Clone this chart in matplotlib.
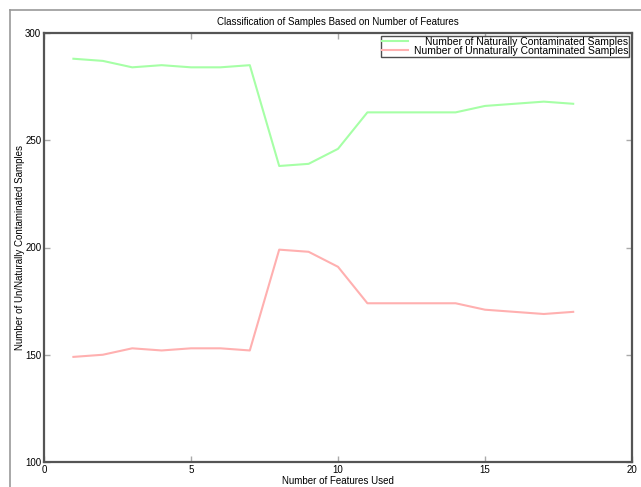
import matplotlib
matplotlib.use("Agg")
import matplotlib.pyplot as plt
from matplotlib.lines import Line2D

features = list(range(1, 19))
natural = [288, 287, 284, 285, 284, 284, 285, 238, 239, 246, 263, 263, 263, 263, 266, 267, 268, 267]
unnatural = [149, 150, 153, 152, 153, 153, 152, 199, 198, 191, 174, 174, 174, 174, 171, 170, 169, 170]

plt.rcParams['font.family'] = ['Liberation Sans', 'DejaVu Sans']

fig = plt.figure(figsize=(6.41, 4.87), dpi=100)
ax = fig.add_axes([44 / 641, 1 - 462 / 487, 588 / 641, 429 / 487])

ax.plot(features, natural, color="#a6ffa6", linewidth=1.5, label="Number of Naturally Contaminated Samples")
ax.plot(features, unnatural, color="#ffb0b0", linewidth=1.5, label="Number of Unnaturally Contaminated Samples")

ax.set_xlim(0, 20)
ax.set_ylim(100, 300)
ax.set_xticks([0, 5, 10, 15, 20])
ax.set_yticks([100, 150, 200, 250, 300])
ax.tick_params(direction="in", length=4, width=1, color="#aaaaaa", labelsize=7,
               top=True, right=True, pad=2)
for s in ax.spines.values():
    s.set_color("#555555")
    s.set_linewidth(1.6)

ax.set_title("Classification of Samples Based on Number of Features", fontsize=7, pad=6)
ax.set_xlabel("Number of Features Used", fontsize=7, labelpad=1)
ax.set_ylabel("Number of Un/Naturally Contaminated Samples", fontsize=7, labelpad=0)

leg = ax.legend(loc="upper right", fontsize=7.5, frameon=True, fancybox=False,
                borderaxespad=0.25, borderpad=0.1, labelspacing=-0.05, handlelength=2.5,
                handletextpad=0.6)
leg.get_frame().set_edgecolor("#222222")
leg.get_frame().set_linewidth(1.0)

# right-align the legend labels, handles stay on the left
fig.canvas.draw()
texts = leg.get_texts()
widths = [t.get_window_extent().width for t in texts]
rows = leg._legend_handle_box.get_children()[0].get_children()
wmax = max(widths)
for row, w in zip(rows, widths):
    row.sep = row.sep + (wmax - w) * 72 / fig.dpi

# window frame lines
fig.add_artist(Line2D([10 / 641, 1], [1 - 10 / 487, 1 - 10 / 487], color="#999999", linewidth=1.2))
fig.add_artist(Line2D([10 / 641, 10 / 641], [0, 1 - 10 / 487], color="#999999", linewidth=1.2))

fig.savefig("out.png", dpi=100)
